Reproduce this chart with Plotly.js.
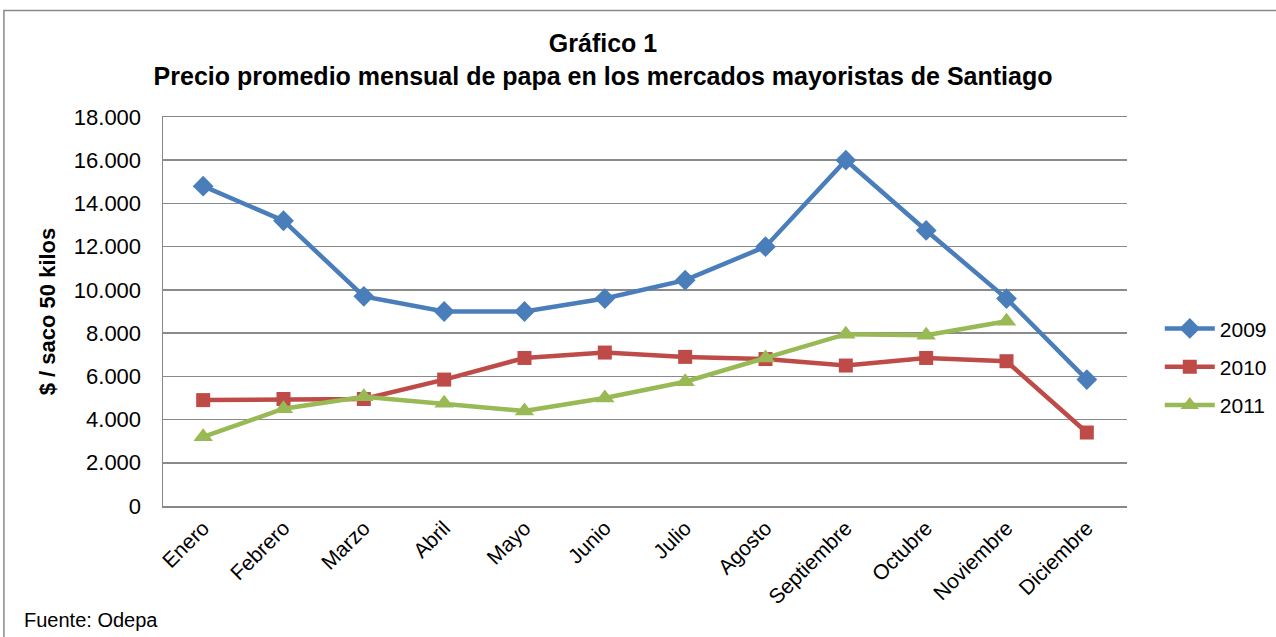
<!DOCTYPE html>
<html>
<head>
<meta charset="utf-8">
<script src="https://cdn.plot.ly/plotly-3.0.1.min.js"></script>
<style>
  html, body { margin: 0; padding: 0; background: #fff; }
  #chart { width: 1276px; height: 637px; }
</style>
</head>
<body>
<div id="chart"></div>
<script>
const months = ["Enero","Febrero","Marzo","Abril","Mayo","Junio","Julio","Agosto","Septiembre","Octubre","Noviembre","Diciembre"];
const y2009 = [14800, 13200, 9700, 9000, 9000, 9600, 10450, 12000, 16000, 12750, 9600, 5850];
const y2010 = [4900, 4950, 4950, 5850, 6850, 7100, 6900, 6800, 6500, 6850, 6700, 3400];
const y2011 = [3200, 4500, 5050, 4750, 4400, 5000, 5750, 6850, 7950, 7900, 8550, null];
const yTicks = [0, 2000, 4000, 6000, 8000, 10000, 12000, 14000, 16000, 18000];
const yTickText = ["0", "2.000", "4.000", "6.000", "8.000", "10.000", "12.000", "14.000", "16.000", "18.000"];

const traces = [
  {x: months, y: y2009, name: "2009", legendgroup: "a", type: "scatter", mode: "lines+markers",
   line: {color: "#4A7EBB", width: 4.5}, marker: {symbol: "diamond", size: 16, color: "#4A7EBB"}},
  {x: months, y: y2010, name: "2010", legendgroup: "b", type: "scatter", mode: "lines+markers",
   line: {color: "#BE4B48", width: 4.5}, marker: {symbol: "square", size: 14, color: "#BE4B48"}},
  {x: months, y: y2011, name: "2011", legendgroup: "c", type: "scatter", mode: "lines+markers",
   line: {color: "#98B954", width: 4.5}, marker: {symbol: "triangle-up", size: 17, color: "#98B954"}}
];

const layout = {
  width: 1276, height: 637,
  paper_bgcolor: "#fff", plot_bgcolor: "#fff",
  margin: {l: 163, r: 149, t: 117, b: 131, autoexpand: false},
  font: {family: "Arial, Liberation Sans, sans-serif", color: "#000"},
  title: {
    text: "<b>Gráfico 1</b><br><b>Precio promedio mensual de papa en los mercados mayoristas de Santiago</b>",
    font: {size: 25, family: "Arial, Liberation Sans, sans-serif", color: "#000"},
    xref: "container", x: 0.4726, xanchor: "center",
    yref: "container", y: 0.918, yanchor: "middle"
  },
  xaxis: {
    type: "category", tickangle: -45,
    tickfont: {size: 21},
    showline: true, linecolor: "#888", linewidth: 1.5, mirror: true,
    showgrid: false, ticks: "", ticklen: 0,
    range: [-0.5, 11.5], fixedrange: true
  },
  yaxis: {
    range: [0, 18000], tickvals: yTicks, ticktext: yTickText,
    tickfont: {size: 22}, ticklabelstandoff: 16,
    showgrid: true, gridcolor: "#8a8a8a", gridwidth: 1.5,
    showline: true, linecolor: "#888", linewidth: 1.5,
    zeroline: false, ticks: "", ticklen: 0,
    title: {text: "<b>$ / saco 50 kilos</b>", font: {size: 22}, standoff: 12}
  },
  legend: {
    x: 1.034, xanchor: "left", y: 0.358, yanchor: "middle",
    font: {size: 21}, bgcolor: "rgba(0,0,0,0)", tracegroupgap: 8,
    itemwidth: 50
  },
  showlegend: true,
  shapes: [
    {type: "rect", xref: "paper", yref: "paper", x0: -0.165, x1: 1.3, y0: -0.34, y1: 1.274,
     line: {color: "#888", width: 1.5}, fillcolor: "rgba(0,0,0,0)"}
  ],
  annotations: [
    {text: "Fuente: Odepa", xref: "paper", yref: "paper", x: -0.1463, y: -0.2935,
     xanchor: "left", yanchor: "middle", showarrow: false, font: {size: 20}}
  ]
};

Plotly.newPlot("chart", traces, layout, {displayModeBar: false, staticPlot: true});
</script>
</body>
</html>
